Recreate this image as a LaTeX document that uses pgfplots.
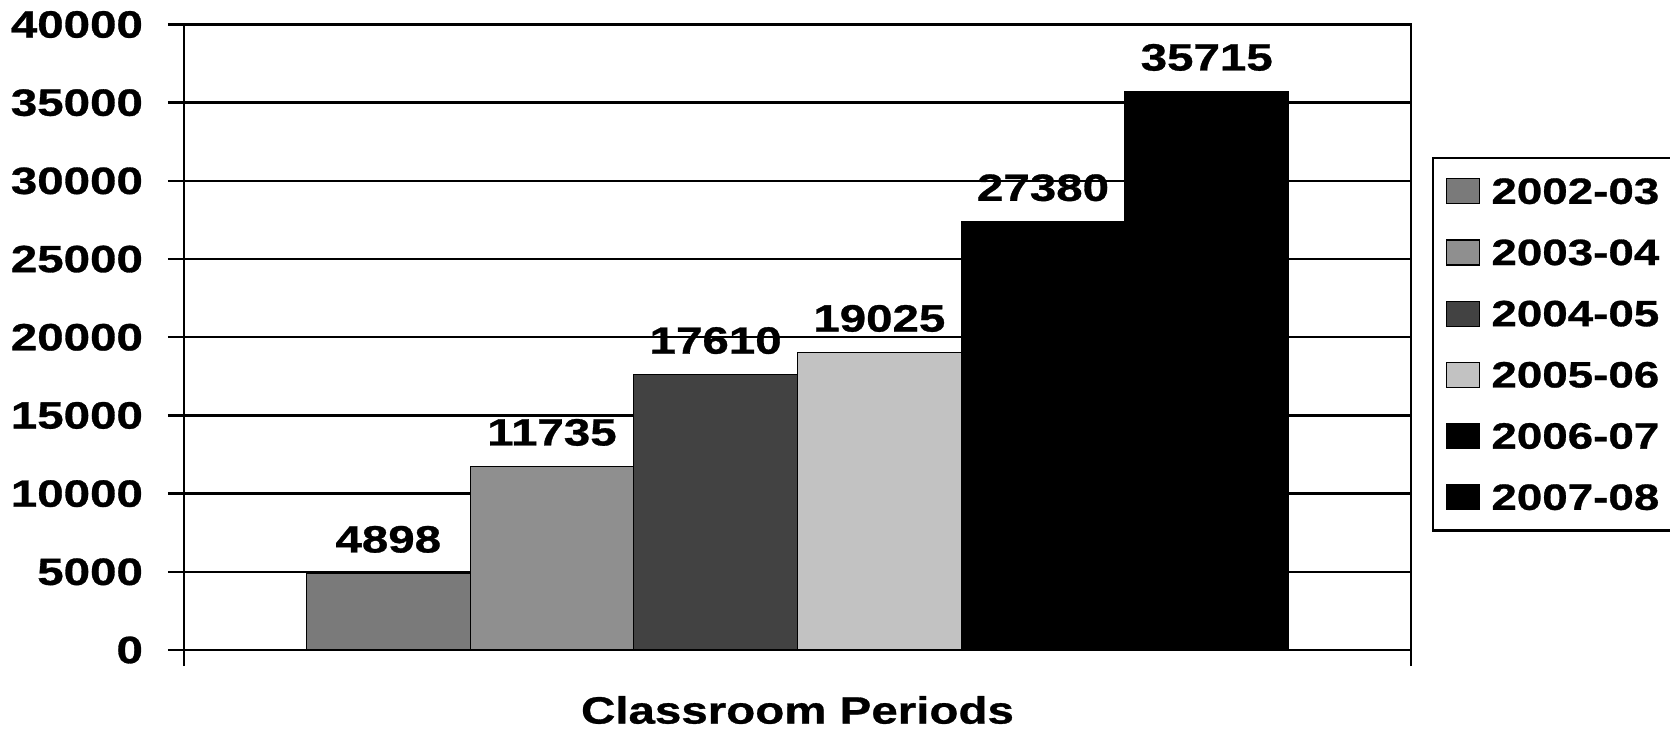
\documentclass[border=0pt]{standalone}
\usepackage{pgfplots}
\pgfplotsset{compat=1.18}
\usepackage{fontspec}
\setmainfont{Liberation Sans}[FakeStretch=1.25, BoldFeatures={FakeBold=0.8}]
\newcommand\lbl{\bfseries\fontsize{19}{22}\selectfont}
\newcommand\leg{\bfseries\fontsize{18.3}{21}\selectfont}
\begin{document}
\begin{tikzpicture}
\useasboundingbox (0,0) rectangle (835pt,367pt);
\begin{axis}[
  at={(92pt,42pt)}, anchor=south west,
  scale only axis, width=613.5pt, height=312.75pt,
  xmin=-3.748, xmax=3.748, ymin=0, ymax=40000,
  ytick={0,5000,10000,15000,20000,25000,30000,35000,40000},
  xtick={-3.748,3.748}, xticklabels={},
  scaled y ticks=false,
  yticklabel style={/pgf/number format/1000 sep={}, /pgf/number format/assume math mode=true, font=\lbl, xshift=-9pt},
  tick align=outside, tick pos=left, major tick length=8pt,
  tick style={black, line width=1.2pt},
  ymajorgrids, major grid style={black, line width=1.2pt},
  axis line style={line width=1.2pt},
  xlabel={Classroom Periods},
  xlabel style={font=\lbl, at={(axis description cs:0.5,0)}, anchor=center, yshift=-30pt},
  every node near coord/.append style={font=\lbl, anchor=south, inner sep=0pt, yshift=10pt, black},
  legend image code/.code={\draw[#1, draw=black, line width=0.6pt] (0pt,-6.25pt) rectangle (16.5pt,6.25pt);},
  legend style={at={(1,1)}, anchor=north west, xshift=10.5pt, yshift=-66.25pt,
    draw=black, line width=1.2pt, fill=white, font=\leg,
    inner xsep=6.5pt, inner ysep=10pt, row sep=17.5pt,
    nodes={inner sep=0pt, text height=12.5pt, text depth=0pt}},
  legend cell align=left,
]
\addplot[ybar, bar width=1, bar shift=0pt, fill=black!52, draw=black, line width=0.6pt, nodes near coords, point meta=explicit symbolic] coordinates {(-2.5,4898)[4898]};
\addlegendentry{\hspace{5.5pt}2002-03}
\addplot[ybar, bar width=1, bar shift=0pt, fill=black!44, draw=black, line width=0.6pt, nodes near coords, point meta=explicit symbolic] coordinates {(-1.5,11735)[11735]};
\addlegendentry{\hspace{5.5pt}2003-04}
\addplot[ybar, bar width=1, bar shift=0pt, fill=black!74, draw=black, line width=0.6pt, nodes near coords, point meta=explicit symbolic] coordinates {(-0.5,17610)[17610]};
\addlegendentry{\hspace{5.5pt}2004-05}
\addplot[ybar, bar width=1, bar shift=0pt, fill=black!24, draw=black, line width=0.6pt, nodes near coords, point meta=explicit symbolic] coordinates {(0.5,19025)[19025]};
\addlegendentry{\hspace{5.5pt}2005-06}
\addplot[ybar, bar width=1, bar shift=0pt, fill=black, draw=black, line width=0.6pt, nodes near coords, point meta=explicit symbolic] coordinates {(1.5,27380)[27380]};
\addlegendentry{\hspace{5.5pt}2006-07}
\addplot[ybar, bar width=1, bar shift=0pt, fill=black, draw=black, line width=0.6pt, nodes near coords, point meta=explicit symbolic] coordinates {(2.5,35715)[35715]};
\addlegendentry{\hspace{5.5pt}2007-08}
\end{axis}
\end{tikzpicture}
\end{document}
